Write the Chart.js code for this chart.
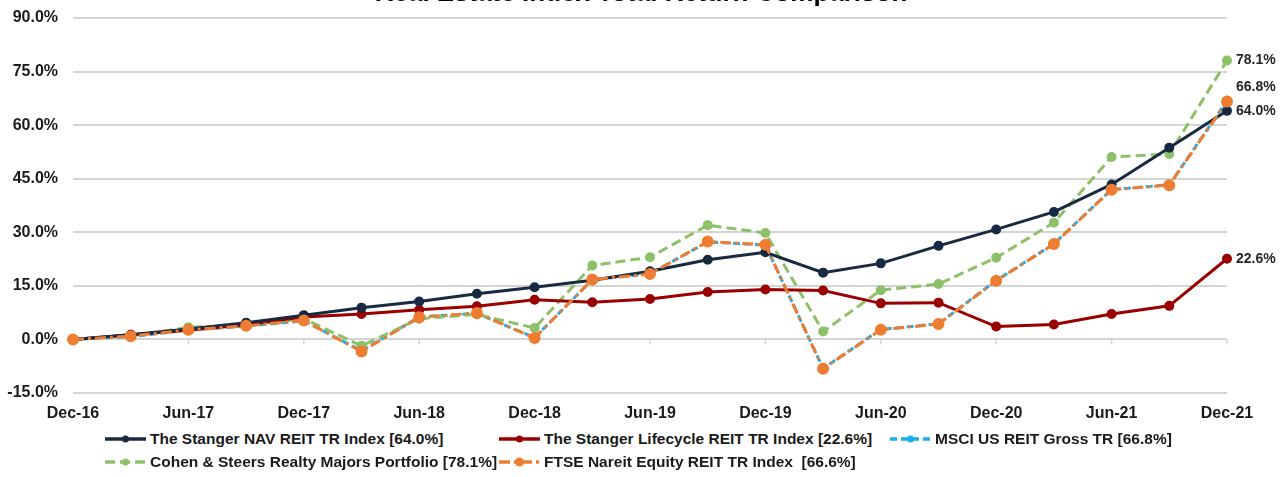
<!DOCTYPE html>
<html>
<head>
<meta charset="utf-8">
<script src="https://cdn.jsdelivr.net/npm/chart.js@4.4.1/dist/chart.umd.min.js"></script>
<style>
    body {
        margin: 0;
        background: #ffffff;
        font-family: "Liberation Sans", Arial, sans-serif;
    }
    .chart-wrap {
        position: relative;
        width: 1283px;
        height: 477px;
    }
    .chart-box {
        position: absolute;
        left: 0;
        top: 0;
        width: 1283px;
        height: 425px;
    }
    .chart-legend {
        position: absolute;
        left: 105px;
        top: 429px;
        display: grid;
        grid-template-columns: 394px 391px auto;
        row-gap: 4px;
        font-weight: 700;
        font-size: 15.5px;
        color: #1a1a1a;
    }
    .chart-legend span.item {
        display: flex;
        align-items: center;
        white-space: pre;
        height: 19px;
    }
    .chart-legend canvas {
        margin-right: 4px;
    }
</style>
</head>
<body>
<div class="chart-wrap">
    <div class="chart-box"><canvas id="returnsChart"></canvas></div>
    <div class="chart-legend" id="returnsLegend"></div>
</div>
<script>
const titleText = 'Real Estate Index Total Return Comparison';

const quarters = [
    'Dec-16', 'Mar-17', 'Jun-17', 'Sep-17', 'Dec-17', 'Mar-18', 'Jun-18',
    'Sep-18', 'Dec-18', 'Mar-19', 'Jun-19', 'Sep-19', 'Dec-19', 'Mar-20',
    'Jun-20', 'Sep-20', 'Dec-20', 'Mar-21', 'Jun-21', 'Sep-21', 'Dec-21',
];

const navData = [0, 1.3, 2.9, 4.7, 6.8, 8.9, 10.6, 12.8, 14.6, 16.6, 19.1, 22.3, 24.4, 18.7, 21.3, 26.2, 30.8, 35.7, 43.4, 53.7, 64.0];
const lifecycleData = [0, 1.3, 2.6, 4.1, 6.3, 7.1, 8.3, 9.3, 11.1, 10.4, 11.3, 13.3, 14.0, 13.7, 10.1, 10.3, 3.6, 4.2, 7.1, 9.4, 22.6];
const msciData = [0, 0.8, 2.6, 3.7, 5.2, -3.2, 6.3, 7.3, 0.5, 16.7, 18.4, 27.3, 26.4, -8.1, 2.8, 4.4, 16.5, 26.8, 42.0, 43.3, 66.8];
const cohenData = [0, 1.0, 3.4, 3.9, 5.8, -1.8, 5.8, 7.0, 3.2, 20.7, 23.0, 32.0, 29.8, 2.2, 13.8, 15.5, 22.9, 32.7, 51.1, 51.9, 78.1];
const ftseData = [0, 0.9, 2.7, 3.8, 5.3, -3.4, 6.2, 7.4, 0.4, 16.8, 18.3, 27.4, 26.5, -8.2, 2.7, 4.3, 16.4, 26.7, 41.9, 43.2, 66.6];

const yMin = -15;
const yMax = 90;
const yStep = 15;

const textColor = '#1a1a1a';
const gridColor = '#d4d4d4';
const fontFamily = '"Liberation Sans", Arial, sans-serif';

const makeSeries = (label, data, color, opts) => ({
    label,
    data,
    borderColor: color,
    backgroundColor: color,
    pointBackgroundColor: color,
    pointBorderColor: color,
    borderWidth: 3,
    pointRadius: 3.5,
    pointHoverRadius: 3.5,
    tension: 0,
    fill: false,
    ...opts,
});

const datasets = [
    makeSeries('The Stanger NAV REIT TR Index [64.0%]', navData, '#172a42', { order: 1, endLabel: 0 }),
    makeSeries('The Stanger Lifecycle REIT TR Index [22.6%]', lifecycleData, '#9b0000', { order: 2, endLabel: 0 }),
    makeSeries('MSCI US REIT Gross TR [66.8%]', msciData, '#1aaeea', { order: 4, borderDash: [7, 4], endLabel: -14 }),
    makeSeries('Cohen & Steers Realty Majors Portfolio [78.1%]', cohenData, '#8cc169', { order: 3, borderDash: [10, 5], endLabel: 0 }),
    makeSeries('FTSE Nareit Equity REIT TR Index  [66.6%]', ftseData, '#ee7d32', { order: 0, borderDash: [11, 4, 3, 4], pointRadius: 4.5 }),
];

// x axis crosses at zero with small tick marks, Excel style
const zeroAxisTicks = {
    id: 'zeroAxisTicks',
    beforeDatasetsDraw(chart) {
        const { ctx, scales } = chart;
        const y0 = scales.y.getPixelForValue(0);

        ctx.save();
        ctx.strokeStyle = gridColor;
        ctx.lineWidth = 1.5;
        quarters.forEach((q, i) => {
            if (i % 2 !== 0) {
                return;
            }
            const x = scales.x.getPixelForValue(i);
            ctx.beginPath();
            ctx.moveTo(x, y0);
            ctx.lineTo(x, y0 + 5);
            ctx.stroke();
        });
        ctx.restore();
    },
};

const endLabels = {
    id: 'endLabels',
    afterDatasetsDraw(chart) {
        const { ctx } = chart;

        ctx.save();
        ctx.font = `bold 14px ${fontFamily}`;
        ctx.fillStyle = '#262626';
        ctx.textBaseline = 'middle';
        chart.data.datasets.forEach((ds, i) => {
            if (ds.endLabel === undefined) {
                return;
            }
            const meta = chart.getDatasetMeta(i);
            const last = meta.data[meta.data.length - 1];
            const value = ds.data[ds.data.length - 1];
            ctx.fillText(`${value.toFixed(1)}%`, last.x + 9, last.y + ds.endLabel);
        });
        ctx.restore();
    },
};

// title sits mostly above the visible area, only its foot shows
const clippedTitle = {
    id: 'clippedTitle',
    afterDraw(chart) {
        const { ctx } = chart;

        ctx.save();
        ctx.font = `bold 26px ${fontFamily}`;
        ctx.fillStyle = '#000000';
        ctx.textAlign = 'center';
        ctx.textBaseline = 'alphabetic';
        ctx.fillText(titleText, 641, 1);
        ctx.restore();
    },
};

const chart = new Chart(document.getElementById('returnsChart'), {
    type: 'line',
    data: {
        labels: quarters,
        datasets,
    },
    options: {
        responsive: true,
        maintainAspectRatio: false,
        animation: false,
        layout: {
            padding: { top: 18, right: 56, bottom: 0, left: 0 },
        },
        plugins: {
            legend: { display: false },
            tooltip: { enabled: false },
        },
        scales: {
            x: {
                offset: false,
                grid: { display: false, drawTicks: false },
                border: { display: false },
                afterFit: (scale) => {
                    scale.height = 32;
                },
                ticks: {
                    autoSkip: false,
                    maxRotation: 0,
                    padding: 11,
                    color: textColor,
                    font: { family: fontFamily, size: 16, weight: '700' },
                    callback: (value, index) => (index % 2 === 0 ? quarters[index] : ''),
                },
            },
            y: {
                min: yMin,
                max: yMax,
                border: { display: false },
                grid: {
                    color: gridColor,
                    lineWidth: 2,
                    drawTicks: false,
                },
                afterFit: (scale) => {
                    scale.width = 73;
                    scale.paddingTop = 10;
                    scale.paddingBottom = 10;
                },
                ticks: {
                    stepSize: yStep,
                    padding: 15,
                    color: textColor,
                    font: { family: fontFamily, size: 16, weight: '700' },
                    callback: (value) => `${value.toFixed(1)}%`,
                },
            },
        },
    },
    plugins: [zeroAxisTicks, endLabels, clippedTitle],
});

const legendBox = document.getElementById('returnsLegend');

datasets.forEach((ds) => {
    const item = document.createElement('span');
    const swatch = document.createElement('canvas');
    const text = document.createElement('span');

    item.className = 'item';
    swatch.width = 41;
    swatch.height = 12;

    const sctx = swatch.getContext('2d');
    sctx.strokeStyle = ds.borderColor;
    sctx.fillStyle = ds.borderColor;
    sctx.lineWidth = 3.5;
    sctx.setLineDash(ds.borderDash || []);
    sctx.beginPath();
    sctx.moveTo(0, 6);
    sctx.lineTo(41, 6);
    sctx.stroke();
    sctx.beginPath();
    sctx.arc(20.5, 6, ds.pointRadius, 0, Math.PI * 2);
    sctx.fill();

    text.textContent = ds.label;
    item.append(swatch, text);
    legendBox.append(item);
});
</script>
</body>
</html>
